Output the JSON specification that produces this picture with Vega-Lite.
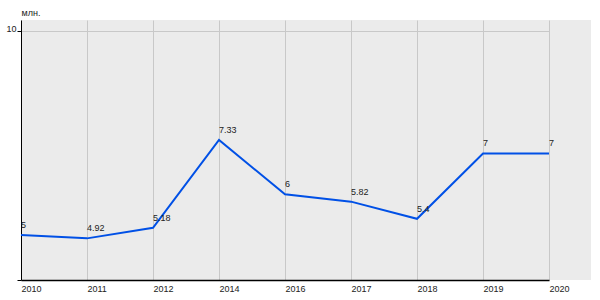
{
  "$schema": "https://vega.github.io/schema/vega-lite/v6.json",
  "width": 570,
  "height": 260,
  "autosize": {"type": "none"},
  "padding": {"left": 21, "top": 20, "right": 9, "bottom": 20},
  "background": "white",
  "config": {
    "view": {"fill": "#ebebeb", "stroke": null},
    "font": "Liberation Sans"
  },
  "data": {
    "values": [
      {"year": "2010", "value": 5, "label": "5"},
      {"year": "2011", "value": 4.92, "label": "4.92"},
      {"year": "2012", "value": 5.18, "label": "5.18"},
      {"year": "2014", "value": 7.33, "label": "7.33"},
      {"year": "2016", "value": 6, "label": "6"},
      {"year": "2017", "value": 5.82, "label": "5.82"},
      {"year": "2018", "value": 5.4, "label": "5.4"},
      {"year": "2019", "value": 7, "label": "7"},
      {"year": "2020", "value": 7, "label": "7"}
    ]
  },
  "encoding": {
    "x": {
      "field": "year",
      "type": "ordinal",
      "sort": null,
      "scale": {"type": "point", "range": [0, 528], "padding": 0},
      "axis": {
        "title": null,
        "domain": false,
        "ticks": false,
        "grid": true,
        "gridColor": "#c8c8c8",
        "gridWidth": 1,
        "labelAngle": 0,
        "labelAlign": "left",
        "labelFontSize": 9,
        "labelColor": "#222",
        "labelPadding": 4
      }
    },
    "y": {
      "field": "value",
      "type": "quantitative",
      "scale": {"domain": [3.9, 10.27], "nice": false, "zero": false},
      "axis": {
        "title": "млн.",
        "titleAngle": 0,
        "titleAlign": "left",
        "titleBaseline": "middle",
        "titleX": 0,
        "titleY": -8,
        "titleFontSize": 9,
        "titleFontWeight": "normal",
        "titleColor": "#222",
        "values": [3.9, 10],
        "labelExpr": "datum.value == 10 ? '10' : ''",
        "labelFontSize": 9,
        "labelColor": "#222",
        "labelBaseline": "alphabetic",
        "labelPadding": 1,
        "tickSize": 4,
        "tickColor": "black",
        "domain": true,
        "domainColor": "black",
        "domainWidth": 1,
        "grid": true,
        "gridColor": {"condition": {"test": "datum.value == 10", "value": "#c8c8c8"}, "value": "black"},
        "gridWidth": {"condition": {"test": "datum.value == 10", "value": 1}, "value": 1.5}
      }
    }
  },
  "layer": [
    {
      "mark": {"type": "line", "color": "#0050e6", "strokeWidth": 2, "clip": false}
    },
    {
      "mark": {"type": "text", "align": "left", "baseline": "bottom", "dy": -5, "fontSize": 9, "color": "#222"},
      "encoding": {"text": {"field": "label"}}
    }
  ]
}
